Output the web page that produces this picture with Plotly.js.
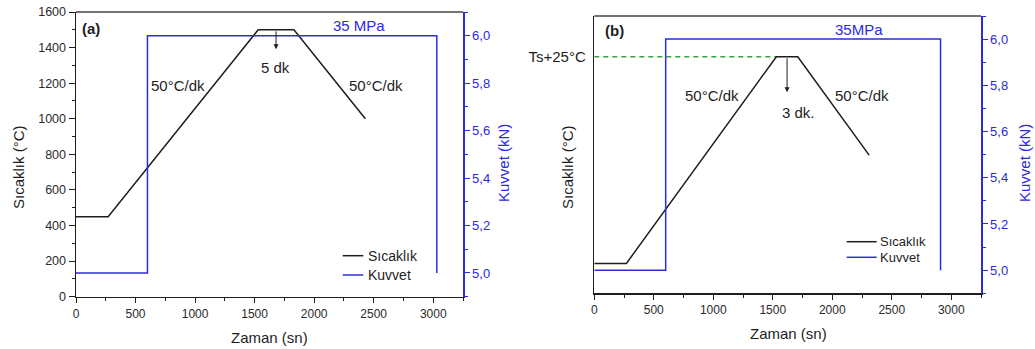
<!DOCTYPE html>
<html>
<head>
<meta charset="utf-8">
<script src="https://cdn.plot.ly/plotly-3.0.1.min.js"></script>
<style>
  html, body { margin: 0; padding: 0; background: #ffffff; }
  #chart { width: 1035px; height: 349px; }
</style>
</head>
<body>
<div id="chart"></div>
<script>
// (a) temperature programme and applied force
const timeA = [0, 270, 1530, 1830, 2430];
const tempA = [450, 450, 1500, 1500, 1000];
const forceTimeA = [0, 600, 600, 3030, 3030];
const forceA = [5.0, 5.0, 6.0, 6.0, 5.0];

// (b) temperature programme (peak = Ts+25 °C) and applied force
const timeB = [0, 270, 1530, 1710, 2310];
const tempB = [450, 450, 1500, 1500, 1000];
const forceTimeB = [0, 600, 600, 2910, 2910];
const forceB = [5.0, 5.0, 6.0, 6.0, 5.0];
const refLineTime = [0, 1530];
const refLineTemp = [1500, 1500];

// axis ticks
const xTicks = [0, 500, 1000, 1500, 2000, 2500, 3000];
const tempTicksA = [0, 200, 400, 600, 800, 1000, 1200, 1400, 1600];
const forceTicks = [5.0, 5.2, 5.4, 5.6, 5.8, 6.0];
const refTickVal = [1500];
const refTickText = ['Ts+25°C'];

const seriesNames = ['Sıcaklık', 'Kuvvet'];

const W = 1035, H = 349;
const FONT = 'Liberation Sans, Arial, sans-serif';
const BLACK = '#1e1e1e';
const BLUE = '#2b2be0';
const GREEN = '#3aa03a';
const seriesColors = [BLACK, BLUE];

function px(x) { return x / W; }
function py(y) { return 1 - y / H; }

const traces = [
  { x: timeA, y: tempA, xaxis: 'x', yaxis: 'y', mode: 'lines', name: seriesNames[0],
    line: { color: seriesColors[0], width: 1.5 } },
  { x: forceTimeA, y: forceA, xaxis: 'x', yaxis: 'y2', mode: 'lines', name: seriesNames[1],
    line: { color: seriesColors[1], width: 1.5 } },
  { x: refLineTime, y: refLineTemp, xaxis: 'x2', yaxis: 'y3', mode: 'lines',
    line: { color: GREEN, width: 1.3, dash: '5px,4px' } },
  { x: timeB, y: tempB, xaxis: 'x2', yaxis: 'y3', mode: 'lines', name: seriesNames[0],
    line: { color: seriesColors[0], width: 1.5 } },
  { x: forceTimeB, y: forceB, xaxis: 'x2', yaxis: 'y4', mode: 'lines', name: seriesNames[1],
    line: { color: seriesColors[1], width: 1.5 } }
];

function xAxis(domain, anchor) {
  return {
    domain: domain, anchor: anchor, range: [0, 3250],
    tickvals: xTicks, ticks: 'outside', ticklen: 5, tickwidth: 1, tickcolor: BLACK,
    minor: { dtick: 250, tick0: 0, ticks: 'outside', ticklen: 3, tickcolor: BLACK, showgrid: false },
    showline: true, linecolor: BLACK, linewidth: 1.5,
    showgrid: false, zeroline: false,
    tickfont: { family: FONT, size: 12, color: '#2a2a2a' }
  };
}

function forceAxis(overlay, anchor) {
  return {
    overlaying: overlay, anchor: anchor, side: 'right', range: [4.9, 6.1],
    tickvals: forceTicks, tickformat: '.1f',
    ticks: 'outside', ticklen: 5, tickwidth: 1, tickcolor: BLUE,
    minor: { dtick: 0.1, tick0: 4.9, ticks: 'outside', ticklen: 3, tickcolor: BLUE, showgrid: false },
    showline: true, linecolor: BLUE, linewidth: 1.5,
    showgrid: false, zeroline: false,
    tickfont: { family: FONT, size: 13, color: BLUE }
  };
}

// legend rows: sample line span and text start (pixels), row centres
function legendItems(x0, x1, xt, rows, size) {
  const shapes = [], notes = [];
  rows.forEach(function (y, i) {
    shapes.push({ type: 'line', xref: 'paper', yref: 'paper',
      x0: px(x0), x1: px(x1), y0: py(y), y1: py(y),
      line: { color: seriesColors[i], width: 1.5 } });
    notes.push({ text: seriesNames[i], xref: 'paper', yref: 'paper', x: px(xt), y: py(y),
      xanchor: 'left', yanchor: 'middle', showarrow: false,
      font: { size: size, color: BLACK } });
  });
  return { shapes: shapes, notes: notes };
}
const legA = legendItems(342.7, 363.3, 366, [255.7, 275], 14);
const legB = legendItems(846.7, 876.7, 878, [241.7, 257.3], 13);

const layout = {
  width: W, height: H,
  margin: { l: 0, r: 0, t: 0, b: 0 },
  paper_bgcolor: '#ffffff', plot_bgcolor: '#ffffff',
  separators: ', ',
  showlegend: false,
  font: { family: FONT, color: BLACK },
  xaxis: xAxis([px(76), px(463)], 'y'),
  yaxis: {
    domain: [py(296.7), py(12)], anchor: 'x', range: [0, 1600],
    tickvals: tempTicksA, ticks: 'outside', ticklen: 6, tickwidth: 1, tickcolor: BLACK,
    minor: { dtick: 100, tick0: 0, ticks: 'outside', ticklen: 3, tickcolor: BLACK, showgrid: false },
    showline: true, linecolor: BLACK, linewidth: 1.5,
    showgrid: false, zeroline: false,
    tickfont: { family: FONT, size: 12.5, color: '#2a2a2a' }
  },
  yaxis2: forceAxis('y', 'x'),
  xaxis2: xAxis([px(594.3), px(981)], 'y3'),
  yaxis3: {
    domain: [py(293.3), py(16)], anchor: 'x2', range: [298, 1707],
    tickvals: refTickVal, ticktext: refTickText, ticks: '', ticklabelstandoff: 4,
    showline: true, linecolor: BLACK, linewidth: 1.5,
    showgrid: false, zeroline: false,
    tickfont: { family: FONT, size: 15, color: BLACK }
  },
  yaxis4: forceAxis('y3', 'x2'),
  shapes: [
    // top frame lines of both panels
    { type: 'line', xref: 'x domain', yref: 'y domain', x0: 0, x1: 1, y0: 1, y1: 1,
      line: { color: '#444444', width: 1.5 } },
    { type: 'line', xref: 'x2 domain', yref: 'y3 domain', x0: 0, x1: 1, y0: 1, y1: 1,
      line: { color: '#444444', width: 1.5 } }
  ].concat(legA.shapes, legB.shapes),
  annotations: [
    // panel labels
    { text: '<b>(a)</b>', x: px(80), y: py(28.5), xref: 'paper', yref: 'paper',
      xanchor: 'left', yanchor: 'middle', showarrow: false, font: { size: 15, color: BLACK } },
    { text: '<b>(b)</b>', x: px(603), y: py(30), xref: 'paper', yref: 'paper',
      xanchor: 'left', yanchor: 'middle', showarrow: false, font: { size: 15, color: BLACK } },
    // pressure labels
    { text: '35 MPa', x: px(359), y: py(26), xref: 'paper', yref: 'paper',
      xanchor: 'center', yanchor: 'middle', showarrow: false, font: { size: 15, color: BLUE } },
    { text: '35MPa', x: px(859), y: py(29.3), xref: 'paper', yref: 'paper',
      xanchor: 'center', yanchor: 'middle', showarrow: false, font: { size: 15, color: BLUE } },
    // heating / cooling rates
    { text: '50°C/dk', x: px(178), y: py(86), xref: 'paper', yref: 'paper',
      xanchor: 'center', yanchor: 'middle', showarrow: false, font: { size: 15, color: BLACK } },
    { text: '50°C/dk', x: px(376), y: py(86), xref: 'paper', yref: 'paper',
      xanchor: 'center', yanchor: 'middle', showarrow: false, font: { size: 15, color: BLACK } },
    { text: '50°C/dk', x: px(712), y: py(95), xref: 'paper', yref: 'paper',
      xanchor: 'center', yanchor: 'middle', showarrow: false, font: { size: 15, color: BLACK } },
    { text: '50°C/dk', x: px(862), y: py(95), xref: 'paper', yref: 'paper',
      xanchor: 'center', yanchor: 'middle', showarrow: false, font: { size: 15, color: BLACK } },
    // dwell times
    { text: '5 dk', x: px(275), y: py(67), xref: 'paper', yref: 'paper',
      xanchor: 'center', yanchor: 'middle', showarrow: false, font: { size: 15, color: BLACK } },
    { text: '3 dk.', x: px(798), y: py(112.7), xref: 'paper', yref: 'paper',
      xanchor: 'center', yanchor: 'middle', showarrow: false, font: { size: 15, color: BLACK } },
    // dwell arrows
    { text: '', xref: 'x', yref: 'y', x: 1680, y: 1390, axref: 'x', ayref: 'y', ax: 1680, ay: 1500,
      showarrow: true, arrowhead: 2, arrowsize: 1, arrowwidth: 1, arrowcolor: BLACK, standoff: 0 },
    { text: '', xref: 'x2', yref: 'y3', x: 1620, y: 1320, axref: 'x2', ayref: 'y3', ax: 1620, ay: 1500,
      showarrow: true, arrowhead: 2, arrowsize: 1, arrowwidth: 1, arrowcolor: BLACK, standoff: 0 },
    // axis titles
    { text: 'Sıcaklık (°C)', x: px(19), y: py(167), xref: 'paper', yref: 'paper', textangle: -90,
      xanchor: 'center', yanchor: 'middle', showarrow: false, font: { size: 15, color: BLACK } },
    { text: 'Kuvvet (kN)', x: px(504), y: py(163), xref: 'paper', yref: 'paper', textangle: -90,
      xanchor: 'center', yanchor: 'middle', showarrow: false, font: { size: 15, color: BLUE } },
    { text: 'Zaman (sn)', x: px(269), y: py(337), xref: 'paper', yref: 'paper',
      xanchor: 'center', yanchor: 'middle', showarrow: false, font: { size: 15, color: BLACK } },
    { text: 'Sıcaklık (°C)', x: px(568), y: py(167), xref: 'paper', yref: 'paper', textangle: -90,
      xanchor: 'center', yanchor: 'middle', showarrow: false, font: { size: 15, color: BLACK } },
    { text: 'Kuvvet (kN)', x: px(1025), y: py(163), xref: 'paper', yref: 'paper', textangle: -90,
      xanchor: 'center', yanchor: 'middle', showarrow: false, font: { size: 15, color: BLUE } },
    { text: 'Zaman (sn)', x: px(788), y: py(333), xref: 'paper', yref: 'paper',
      xanchor: 'center', yanchor: 'middle', showarrow: false, font: { size: 15, color: BLACK } }
  ].concat(legA.notes, legB.notes)
};

Plotly.newPlot('chart', traces, layout, { staticPlot: true, displayModeBar: false });
</script>
</body>
</html>
